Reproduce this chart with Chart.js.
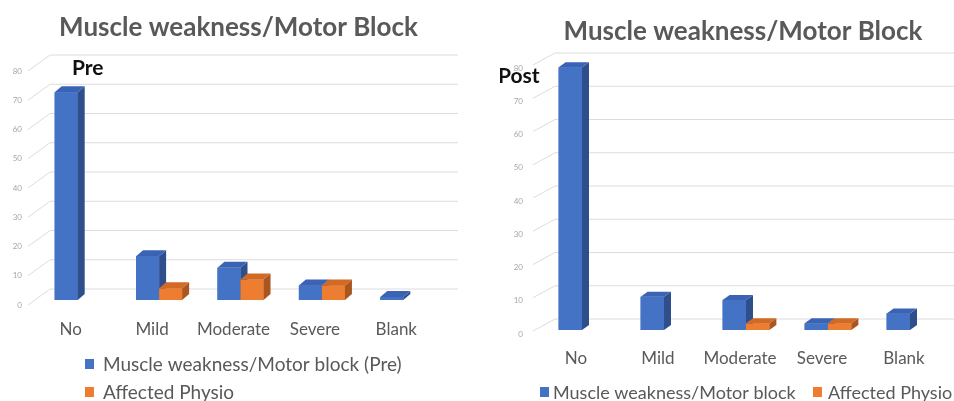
<!DOCTYPE html>
<html><head><meta charset="utf-8">
<script src="https://cdn.jsdelivr.net/npm/chart.js@4.4.1/dist/chart.umd.min.js"></script>
<style>
html,body{margin:0;padding:0;background:#fff;overflow:hidden;width:954px;height:401px;position:relative;}
#wl{position:absolute;left:0;top:0;width:477px;height:401px;}
#wr{position:absolute;left:500px;top:0;width:486px;height:401px;}
</style></head><body>
<div id="wl"><canvas id="cl"></canvas></div>
<div id="wr"><canvas id="cr"></canvas></div>
<script>
// ---- data ----
const categories = ['No', 'Mild', 'Moderate', 'Severe', 'Blank'];
const preMuscle = [71, 15, 11, 5, 1];
const preAffected = [0, 4, 7, 5, 0];
const postMuscle = [79, 10, 9, 2, 5];
const postAffected = [0, 0, 2, 2, 0];
const yTicks = [0, 10, 20, 30, 40, 50, 60, 70, 80];
const chartTitle = 'Muscle weakness/Motor Block';
const preSeriesNames = ['Muscle weakness/Motor block (Pre)', 'Affected Physio'];
const postSeriesNames = ['Muscle weakness/Motor block', 'Affected Physio'];
const preTag = 'Pre';
const postTag = 'Post';

// ---- styling ----
const FONT = 'Lato, "Open Sans", sans-serif';
const BLUE = {front: '#4472C4', side: '#2E4E8C', top: '#3A63B5'};
const ORANGE = {front: '#ED7D31', side: '#A95620', top: '#D06A25'};

function make3dPlugin(g) {
  return {
    id: 'box3d',
    beforeDatasetsDraw(chart) {
      const ctx = chart.ctx, y = chart.scales.y, ca = chart.chartArea;
      ctx.save();
      ctx.strokeStyle = '#dcdcdc';
      ctx.lineWidth = 1;
      y.ticks.forEach(t => {
        const yf = y.getPixelForValue(t.value);
        ctx.beginPath();
        ctx.moveTo(ca.left + g.diagDx, yf + g.diagDy);
        ctx.lineTo(ca.left + g.backDx, yf - g.backDy);
        ctx.lineTo(g.gridRight, yf - g.backDy);
        ctx.stroke();
      });
      ctx.restore();
    },
    afterDatasetsDraw(chart) {
      const ctx = chart.ctx;
      const dx = g.depthX, dy = g.depthY;
      ctx.save();
      chart.data.datasets.forEach((ds, di) => {
        const meta = chart.getDatasetMeta(di);
        meta.data.forEach((el, i) => {
          if (!ds.data[i]) return;
          const p = el.getProps(['x', 'y', 'base', 'width'], true);
          const l = p.x - p.width / 2, r = p.x + p.width / 2;
          ctx.fillStyle = ds.backgroundColor;
          ctx.fillRect(l, p.y, p.width, p.base - p.y);
          ctx.fillStyle = ds.sideColor;
          ctx.beginPath();
          ctx.moveTo(r, p.y); ctx.lineTo(r + dx, p.y - dy);
          ctx.lineTo(r + dx, p.base - dy); ctx.lineTo(r, p.base);
          ctx.closePath(); ctx.fill();
          ctx.fillStyle = ds.topColor;
          ctx.beginPath();
          ctx.moveTo(l, p.y); ctx.lineTo(l + dx, p.y - dy);
          ctx.lineTo(r + dx, p.y - dy); ctx.lineTo(r, p.y);
          ctx.closePath(); ctx.fill();
        });
      });
      ctx.restore();
    },
    afterDraw(chart) {
      const ctx = chart.ctx;
      ctx.save();
      ctx.fillStyle = '#111';
      ctx.font = 'bold 21px ' + FONT;
      ctx.textBaseline = 'middle';
      ctx.textAlign = 'left';
      ctx.fillText(g.tag, g.tagX, g.tagY);
      // legend
      ctx.font = g.legendSize + 'px ' + FONT;
      chart.data.datasets.forEach((ds, i) => {
        const pos = g.legend[i];
        ctx.fillStyle = ds.backgroundColor;
        ctx.fillRect(pos[0], pos[1] - 5, 9, 10);
        ctx.fillStyle = '#595959';
        ctx.fillText(ds.label, pos[2], pos[1] + 1);
      });
      ctx.restore();
    }
  };
}

function makeChart(id, names, s1, s2, g) {
  return new Chart(document.getElementById(id), {
    type: 'bar',
    data: {
      labels: categories,
      datasets: [
        {label: names[0], data: s1, backgroundColor: BLUE.front, sideColor: BLUE.side, topColor: BLUE.top},
        {label: names[1], data: s2, backgroundColor: ORANGE.front, sideColor: ORANGE.side, topColor: ORANGE.top}
      ]
    },
    options: {
      responsive: true,
      maintainAspectRatio: false,
      animation: false,
      layout: {padding: 0},
      datasets: {bar: {categoryPercentage: g.catPct, barPercentage: 1, borderWidth: 0}},
      plugins: {
        legend: {display: false},
        tooltip: {enabled: false},
        title: {
          display: true, text: chartTitle, color: '#595959',
          font: {family: FONT, size: 26, weight: 'bold', lineHeight: 1.2},
          padding: {top: g.titleTop, bottom: g.titleBottom}
        }
      },
      scales: {
        x: {
          grid: {display: false}, border: {display: false},
          ticks: {color: '#595959', font: {family: FONT, size: 17}, padding: g.xPad, labelOffset: g.xLabelOffset, maxRotation: 0, autoSkip: false},
          afterFit: s => { s.height = g.xHeight; }
        },
        y: {
          min: 0, max: 80,
          grid: {display: false}, border: {display: false},
          afterBuildTicks: s => { s.ticks = yTicks.map(v => ({value: v})); },
          ticks: {color: '#a6a6a6', font: {family: FONT, size: 8}, padding: g.yPad, labelOffset: g.yLabelOffset},
          afterFit: s => { s.width = g.yWidth; }
        },
        yr: {
          position: 'right', min: 0, max: 80,
          grid: {display: false}, border: {display: false},
          ticks: {display: false},
          afterFit: s => { s.width = g.padRight; }
        }
      }
    },
    plugins: [make3dPlugin(g)]
  });
}

makeChart('cl', preSeriesNames, preMuscle, preAffected, {
  padRight: 33, catPct: 0.566, titleTop: 12, titleBottom: 22.8,
  xHeight: 101, xPad: 11, xLabelOffset: -7, yWidth: 37, yPad: 7, yLabelOffset: 5,
  diagDx: -9, diagDy: 5, backDx: 13, backDy: 11, gridRight: 458, depthX: 7, depthY: 6,
  tag: preTag, tagX: 72, tagY: 68,
  legendSize: 19,
  legend: [[85, 364, 103], [85, 392, 103]]
});
makeChart('cr', postSeriesNames, postMuscle, postAffected, {
  padRight: 35, catPct: 0.57, titleTop: 16.4, titleBottom: 16.4,
  xHeight: 71, xPad: 10, xLabelOffset: -6, yWidth: 41, yPad: 10, yLabelOffset: 4,
  diagDx: -8, diagDy: 1, backDx: 14, backDy: 11, gridRight: 486, depthX: 7, depthY: 5,
  tag: postTag, tagX: -2, tagY: 76,
  legendSize: 18,
  legend: [[40, 392, 53], [313, 392, 328]]
});
</script>
</body></html>
